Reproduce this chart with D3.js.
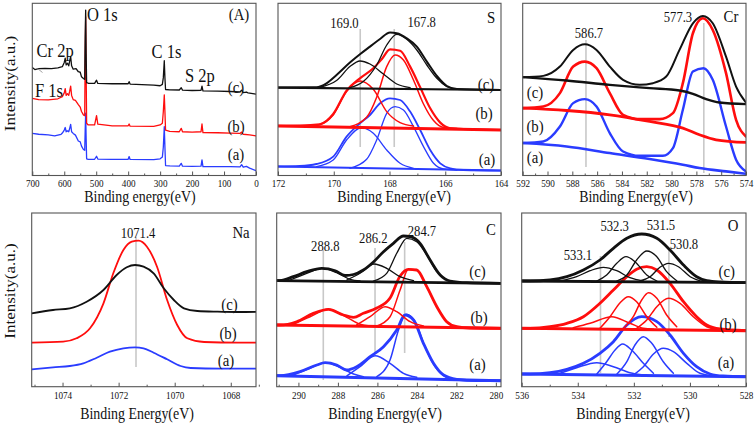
<!DOCTYPE html>
<html><head><meta charset="utf-8">
<script src="https://cdn.jsdelivr.net/npm/d3@7"></script>
<style>
body{margin:0;background:#fff}
svg{display:block}
text{font-family:"Liberation Serif","Times New Roman",serif;fill:#111}
</style>
</head><body>
<svg id="chart" width="756" height="427"></svg>
<script>
// ---------------- DATA (binding energy eV, intensity a.u.) ----------------
// Survey (A)
const surveyTicks=[700,600,500,400,300,200,100,0], surveyMinor=[650,550,450,350,250,150,50];
const surveyC=[[700,62],[692,60.8],[680,61.3],[660,61.5],[640,61.4],[620,61.8],[606,62.5],[600,65],[597,67.5],[594,63.5],[590,64.5],[586,63],[583,66],[580,68.5],[577,63],[572,61],[563,61.3],[556,59.5],[550,59.2],[546,56.5],[540,55.5],[536,55],[534.5,80],[533,96],[531.5,70],[530,53],[525,52.7],[505,52.6],[499,54.5],[495,52.6],[450,52.4],[400,52.4],[397,53.6],[394,52.2],[320,51.6],[300,51.2],[293,52],[290,56],[287,66],[285,56],[283,49],[270,48.8],[240,48.7],[234,50],[230,48.6],[200,48.4],[172,48.5],[169,51],[166,48.2],[120,48],[80,47.8],[50,47.5],[45,48.6],[40,47.2],[30,47.5],[25,47],[10,46.5],[0,46.2]];
const surveyB=[[700,43.8],[680,43],[650,42.8],[620,43.5],[606,44.8],[600,47],[597,49.5],[594,45.5],[590,46.5],[586,45.5],[583,48],[580,51],[577,45.5],[572,43],[565,42.5],[556,40],[550,38.5],[546,36],[540,34],[536,33.5],[534.5,70],[533,92],[531.5,60],[530,29],[525,28],[505,28],[499,33.5],[495,28.5],[450,27.5],[400,27.5],[397,28.6],[394,27.3],[320,27.2],[300,28],[293,29],[290,36],[287,45.8],[285,36],[283,25],[270,24.2],[240,24],[234,26],[230,24],[200,23.8],[172,24],[169,28.6],[166,23.5],[120,23.4],[80,23.2],[50,23],[45,23.8],[40,22.5],[20,22.2],[0,21.5]];
const surveyA=[[700,23],[680,22.5],[650,22.1],[630,21.5],[610,22.5],[606,23.2],[600,25],[597,26.5],[594,24],[590,24.5],[586,24],[583,26],[580,28.4],[577,24],[572,23],[565,22],[556,18.5],[550,18],[546,15.5],[540,13.5],[536,13],[534.5,25],[533,35],[531.5,20],[530,8],[525,7.7],[505,7.7],[499,9.5],[495,7.8],[450,7.7],[400,7.7],[397,9.3],[394,7.6],[320,7.5],[300,8],[293,9],[290,15],[287,27],[285,15],[283,4],[270,3.8],[240,3.6],[234,5.3],[230,3.6],[200,3.5],[172,3.6],[169,7.3],[166,3.4],[120,3.4],[80,3.3],[50,3.2],[45,4.5],[40,3],[30,3.5],[20,2.5],[0,1]];

// S 2p
const sTicks=[172,170,168,166,164], sMinor=[171,169,167,165];
const sPeaks=[169.0,167.8];
const sBaseC=[[172,84.7],[164,82.3]];
const sEnvC=[[172,84.7],[170.62,85.0],[170.26,89.0],[169.90,97.3],[169.42,109.7],[169.06,118.0],[168.70,125.7],[168.34,133.3],[167.98,139.7],[167.74,139.0],[167.38,134.0],[167.02,125.7],[166.66,110.7],[166.30,96.3],[165.94,86.3],[165.58,83.3],[164,82.3]];
const sP1C=[[170.5,85.0],[169.9,91.7],[169.42,105.7],[169.06,111.3],[168.7,108.3],[168.22,98.3],[167.74,88.3],[167.26,84.7]];
const sP2C=[[169.42,84.7],[168.94,90.7],[168.46,107.3],[168.1,127.3],[167.74,138],[167.38,133],[167.02,122.3],[166.66,107.3],[166.3,94],[165.94,85.7],[165.58,83]];
const sBaseB=[[172,46.3],[164,42.3]];
const sEnvB=[[172,46.5],[171.22,46.7],[170.5,48.0],[170.02,58.3],[169.54,81.7],[169.06,94.0],[168.58,104.0],[168.28,113],[167.98,123],[167.62,121.5],[167.26,105.7],[166.90,85.0],[166.54,64.0],[166.18,49.7],[165.82,44.0],[165.35,43.3],[164,42.3]];
const sP1B=[[170.62,46.7],[170.02,57.3],[169.54,80.7],[169.06,91.3],[168.58,83.0],[168.10,60.7],[167.62,49.7],[167.14,46.3]];
const sP2B=[[169.42,45.7],[168.82,55.0],[168.46,75.0],[168.10,105.7],[167.80,117.3],[167.50,112.3],[167.14,92.3],[166.78,68.3],[166.42,51.7],[166.06,44.7],[165.58,43.7]];
const sBaseA=[[172,5.7],[164,1.7]];
const sEnvA=[[172,5.8],[171.22,6.3],[170.62,8.3],[170.02,15.7],[169.54,35.7],[169.06,49.0],[168.70,57.3],[168.34,69.0],[167.98,74.0],[167.62,72.3],[167.26,60.7],[166.90,42.3],[166.54,22.3],[166.18,9.0],[165.82,4.0],[165.35,2.3],[164,1.7]];
const sP1A=[[170.62,5.7],[170.02,12.3],[169.54,32.3],[169.0,44.7],[168.58,39.0],[168.10,22.3],[167.62,9.0],[167.14,4.0]];
const sP2A=[[169.42,4.0],[168.82,13.0],[168.46,32.3],[168.10,59.0],[167.80,65.7],[167.50,62.3],[167.14,45.7],[166.78,25.7],[166.42,9.0],[166.06,3.3],[165.58,2.3]];

// Cr 2p
const crTicks=[592,590,588,586,584,582,580,578,576,574], crMinor=[591,589,587,585,583,581,579,577,575];
const crPeaks=[586.7,577.3];
const crEnvC=[[592,98.7],[590.34,100],[589,109.3],[587.93,126],[586.99,131.7],[586.05,126],[584.98,109.3],[583.91,96],[582.57,91],[581.5,92.7],[580.43,99.3],[579.36,126],[578.28,152.7],[577.48,160],[576.68,152.7],[575.61,119.3],[574.8,89.3],[574,73.3]];
const crBaseC=[[592,98.7],[588.46,95.3],[584.98,91],[581.77,87.7],[579.36,85.3],[578.28,82],[577.21,76.7],[576.14,73.3],[574,71.7]];
const crEnvB=[[592,67.7],[590.34,69.3],[589,82.7],[587.93,109.3],[586.99,114.3],[586.05,107.7],[584.98,82.7],[583.91,61],[582.57,56.7],[580.96,56.7],[579.89,62.7],[579.09,92.7],[578.28,142.7],[577.48,157.7],[576.68,146],[575.61,102.7],[574.8,56],[574,39.3]];
const crBaseB=[[592,67.7],[588.46,65.3],[584.98,61],[581.77,54.3],[579.09,47.7],[577.75,41],[576.41,36],[574,33.3]];
const crEnvA=[[592,32.7],[590.34,34.3],[589,49.3],[587.93,72.7],[586.99,76.7],[586.05,69.3],[584.98,42.7],[583.91,24.3],[582.57,20],[580.7,20],[579.89,27.7],[579.09,66],[578.28,104.3],[577.43,107.7],[576.68,96],[575.61,49.3],[574.8,16],[574,4.3]];
const crBaseA=[[592,32.7],[588.46,29.3],[584.98,22.7],[581.77,16.7],[579.09,11],[577.75,7.7],[575.61,4.3],[574,2]];

// Na 1s
const naTicks=[1074,1072,1070,1068], naMinor=[1075,1073,1071,1069,1067];
const naPeaks=[1071.4];
const naC=[[1075.1,72.7],[1074.34,76],[1073.74,77.7],[1073.14,84.3],[1072.54,96],[1072.07,111],[1071.71,118.7],[1071.41,121],[1071.11,119.3],[1070.75,112.7],[1070.39,97.7],[1070.03,86],[1069.67,77.7],[1069.19,75],[1068.47,74.3],[1067.75,74],[1066.94,74.3]];
const naB=[[1075.1,43.3],[1073.98,44.3],[1073.5,47.7],[1073.02,57.7],[1072.54,82.7],[1072.19,112.7],[1071.83,136],[1071.53,144.3],[1071.29,145.3],[1070.99,139.3],[1070.63,119.3],[1070.27,86],[1069.91,61],[1069.55,47.7],[1068.95,44],[1067.75,43.3],[1066.94,43.3]];
const naA=[[1075.1,16.7],[1074.34,18.7],[1073.74,20],[1073.26,22.7],[1072.78,28.3],[1072.31,34.3],[1071.83,37.7],[1071.41,38.7],[1071.11,37.7],[1070.75,33.3],[1070.27,26.7],[1069.79,20],[1069.43,18],[1068.35,17.3],[1066.94,17.3]];

// C 1s
const cTicks=[290,288,286,284,282,280], cMinor=[291,289,287,285,283,281];
const cPeaks=[288.8,286.2,284.7];
const cBaseC=[[291.1,105.3],[279.74,102.7]];
const cEnvC=[[291.1,105.3],[290.93,105.3],[290.26,109.3],[289.58,114.3],[288.82,117.7],[288.14,115.3],[287.64,110.5],[287.21,111.5],[286.71,116],[286.2,124],[285.69,134.3],[285.19,142.7],[284.68,150],[284.34,149.3],[283.84,142.7],[283.33,126],[282.82,111],[282.32,105],[281.47,103.3],[279.74,102.7]];
const cP1C=[[290.42,106],[289.58,112.7],[288.77,117.7],[288.06,113.3],[287.38,106.7],[286.88,105]];
const cP2C=[[287.55,106],[286.88,112.7],[286.17,122],[285.53,117.7],[284.85,109.3],[284.17,105.3]];
const cP3C=[[286.2,105],[285.53,112.7],[285.02,132.7],[284.51,147.7],[284.01,144.3],[283.5,131],[282.99,114.3],[282.49,106],[281.98,103.3]];
const cBaseB=[[291.1,61],[279.74,57.7]];
const cEnvB=[[291.1,61],[290.93,61],[290.09,64.3],[289.24,72.7],[288.48,76.7],[287.72,71],[287.21,68.7],[286.71,72.7],[286.03,78],[285.36,88],[284.85,110],[284.43,116.7],[284.01,116],[283.5,99.3],[282.99,79.3],[282.49,64.3],[281.98,59.3],[281.3,58],[279.74,57.7]];
const cP1B=[[290.26,61.7],[289.41,69.3],[288.48,76.7],[287.55,68.7],[286.88,61.7],[286.37,60]];
const cP2B=[[287.05,61],[286.37,69.3],[285.61,79.3],[285.02,74.3],[284.34,64.3],[283.67,60]];
const cP3B=[[286.03,60],[285.36,69.3],[284.85,96],[284.43,116.7],[284.01,116],[283.5,99.3],[282.99,79.3],[282.49,64.3],[281.98,59.3]];
const cBaseA=[[291.1,10.3],[279.74,5.3]];
const cEnvA=[[291.1,10.3],[290.93,10.3],[289.92,14.3],[289.07,21],[288.65,23.3],[288.06,21],[287.55,16],[287.05,19.3],[286.37,29.3],[285.69,39.3],[285.02,56],[284.6,71],[284.17,66],[283.67,42.7],[283.16,22.7],[282.65,11],[281.98,6.7],[280.97,5.3],[279.74,5.3]];
const cP1A=[[290.26,11],[289.41,17.7],[288.65,23.3],[287.89,18.7],[287.21,12],[286.71,9.3]];
const cP2A=[[287.55,10],[286.88,19.3],[286.12,30.3],[285.36,22.7],[284.68,12.7],[284.01,8.7]];
const cP3A=[[286.03,9.3],[285.36,26],[284.93,56],[284.55,71.7],[284.09,64.3],[283.59,39.3],[283.08,19.3],[282.57,9.3],[281.98,6]];

// O 1s
const oTicks=[536,534,532,530,528], oMinor=[535,533,531,529];
const oPeaks=[533.1,532.3,531.5,530.8];
const oBaseC=[[536,104],[528,102.3]];
const oEnvC=[[536,104],[535.7,104],[534.99,105],[534.39,108.3],[533.8,115],[533.21,125],[532.73,136.7],[532.25,146.7],[531.72,151],[531.18,146.7],[530.71,135],[530.23,120],[529.76,108.3],[529.4,104.3],[528.92,103],[528,102.3]];
const oP1C=[[534.63,104],[534.04,108.3],[533.56,114.3],[533.09,117.7],[532.61,114.3],[532.14,107.3],[531.66,104]];
const oP2C=[[533.32,104],[532.97,110],[532.61,121.7],[532.28,128.3],[531.96,123.3],[531.54,110],[531.18,104]];
const oP3C=[[532.61,104],[532.25,110],[531.9,125],[531.54,134],[531.18,128.3],[530.83,113.3],[530.47,104.3]];
const oP4C=[[531.78,104],[531.42,108.3],[531.07,117.7],[530.77,121.7],[530.41,118.3],[529.99,108.3],[529.52,103.3]];
const oBaseB=[[536,56.7],[528,54.3]];
const oEnvB=[[536,56.7],[535.7,56.7],[534.99,58.3],[534.39,61.7],[533.8,68.3],[533.21,81.7],[532.73,95],[532.25,108.3],[531.9,115.7],[531.54,118.3],[531.18,115],[530.71,101.7],[530.23,83.3],[529.76,68.3],[529.4,60],[528.92,56],[528,54.3]];
const oP1B=[[534.16,57.3],[533.56,61.7],[532.79,68.3],[532.14,61.7],[531.66,56.7],[531.3,55.7]];
const oP2B=[[533.21,56.7],[532.85,68.3],[532.49,82.3],[532.2,88.3],[531.9,83.3],[531.54,68.3],[531.18,57.7]];
const oP3B=[[532.37,56.7],[532.02,68.3],[531.72,85],[531.48,92.3],[531.18,86.7],[530.83,70],[530.47,58.3]];
const oP4B=[[531.9,56.7],[531.54,65],[531.18,78.3],[530.77,86.7],[530.35,81.7],[529.88,68.3],[529.4,58.3],[529.04,55.7]];
const oBaseA=[[536,11],[528,8.3]];
const oEnvA=[[536,11],[535.7,11],[534.99,12.3],[534.39,15.7],[533.8,21.7],[533.21,31.7],[532.73,43.3],[532.25,60],[531.72,68.3],[531.18,63.3],[530.71,50],[530.23,31.7],[529.76,18.3],[529.28,11],[528.81,9],[528,8.3]];
const oP1A=[[534.63,11.7],[534.04,17.3],[533.32,22.3],[532.73,18.3],[532.14,12.3],[531.66,10]];
const oP2A=[[533.32,11],[532.97,23.3],[532.67,35],[532.4,41],[532.08,35],[531.66,21.7],[531.3,11.7]];
const oP3A=[[532.61,10.7],[532.25,23.3],[531.96,40],[531.66,48.3],[531.36,41.7],[530.95,23.3],[530.59,11.7]];
const oP4A=[[532.02,10],[531.66,18.3],[531.3,31],[530.95,36.7],[530.59,33.3],[530.11,21.7],[529.64,11.7],[529.16,9]];

// ---------------- DRAWING ----------------
const BLK="#111111", RED="#ff0d0d", BLU="#2a3cff", GUIDE="#c8c8c8";
const SX=0.87;
const svg=d3.select("#chart");
let clipN=0;

function txt(x,y,s,size,anchor,rot){
  const g=svg.append("g").attr("transform",rot?`translate(${x},${y}) rotate(-90) scale(1,${SX})`:`translate(${x},${y}) scale(${SX},1)`);
  g.append("text").attr("text-anchor",anchor||"middle").attr("font-size",size).text(s);
}

function panel(cfg){
  const x=d3.scaleLinear().domain(cfg.xd).range([cfg.l,cfg.r]);
  const y=d3.scaleLinear().domain(cfg.yd).range([cfg.b,cfg.t]);
  const id="clip"+(clipN++);
  svg.append("clipPath").attr("id",id).append("rect").attr("x",cfg.l).attr("y",cfg.t).attr("width",cfg.r-cfg.l).attr("height",cfg.b-cfg.t);
  const g=svg.append("g").attr("clip-path",`url(#${id})`);
  (cfg.guides||[]).forEach(gd=>{
    g.append("line").attr("x1",x(gd.e)).attr("x2",x(gd.e)).attr("y1",gd.y0).attr("y2",gd.y1)
     .attr("stroke",GUIDE).attr("stroke-width",1.6);
  });
  const line=d3.line().x(d=>x(d[0])).y(d=>y(d[1])).curve(cfg.curve||d3.curveMonotoneX);
  cfg.series.forEach(s=>{
    g.append("path").attr("d",line(s.d)).attr("fill","none").attr("stroke",s.c)
     .attr("stroke-width",s.w).attr("stroke-linejoin","round").attr("stroke-linecap","round");
  });
  // frame
  svg.append("rect").attr("x",cfg.l).attr("y",cfg.t).attr("width",cfg.r-cfg.l).attr("height",cfg.b-cfg.t)
     .attr("fill","none").attr("stroke","#555").attr("stroke-width",1.1);
  // axes
  const ax=svg.append("g").attr("transform",`translate(0,${cfg.b})`)
    .call(d3.axisBottom(x).tickValues(cfg.ticks).tickSizeInner(-4).tickSizeOuter(0).tickPadding(4.5).tickFormat(d3.format("d")));
  ax.select(".domain").remove();
  ax.selectAll(".tick line").attr("stroke","#555");
  ax.selectAll(".tick text").attr("font-size",10.5).attr("font-family","Liberation Serif, serif").attr("fill","#111").attr("transform",`scale(${SX},1)`);
  const mx=svg.append("g").attr("transform",`translate(0,${cfg.b})`)
    .call(d3.axisBottom(x).tickValues(cfg.minor).tickSizeInner(-2).tickSizeOuter(0).tickFormat(""));
  mx.select(".domain").remove();
  mx.selectAll(".tick line").attr("stroke","#555");
  return {x,y};
}

// --- Panel A: survey
panel({l:32.3,r:256,t:3.3,b:175.5,xd:[700,0],yd:[-1.9,100],ticks:surveyTicks,minor:surveyMinor,curve:d3.curveLinear,
  series:[{d:surveyA,c:BLU,w:1.3},{d:surveyB,c:RED,w:1.3},{d:surveyC,c:BLK,w:1.3}]});
svg.append("line").attr("x1",37.5).attr("y1",68.5).attr("x2",42.5).attr("y2",72.5).attr("stroke","#888").attr("stroke-width",0.8);
txt(239,19.5,"(A)",17);
txt(87,20.5,"O 1s",19,"start");
txt(36.5,57,"Cr 2p",19,"start");
txt(151.5,58,"C 1s",19,"start");
txt(185,82,"S 2p",19,"start");
txt(35,96.5,"F 1s",19,"start");
txt(236,93,"(c)",17); txt(236,131.5,"(b)",17); txt(236,159.5,"(a)",17);
txt(140,202,"Binding energy(eV)",16);
txt(15,83.5,"Intensity(a.u.)",17,"middle",true);

// --- Panel S
panel({l:278,r:501,t:3.3,b:175.5,xd:[172,164],yd:[-3.2,169],ticks:sTicks,minor:sMinor,
  guides:[{e:169.05,y0:29,y1:147},{e:167.83,y0:29,y1:147}],
  series:[{d:sBaseA,c:BLU,w:2},{d:sP1A,c:BLU,w:1.3},{d:sP2A,c:BLU,w:1.3},{d:sEnvA,c:BLU,w:1.8},
          {d:sBaseB,c:RED,w:3},{d:sP1B,c:RED,w:1.5},{d:sP2B,c:RED,w:1.5},{d:sEnvB,c:RED,w:2.2},
          {d:sBaseC,c:BLK,w:2.2},{d:sP1C,c:BLK,w:1.3},{d:sP2C,c:BLK,w:1.3},{d:sEnvC,c:BLK,w:2}]});
txt(344.5,28,sPeaks[0].toFixed(1),14.5);
txt(421.7,26.5,sPeaks[1].toFixed(1),14.5);
txt(491,22.5,"S",17);
txt(486,90,"(c)",17); txt(484,119,"(b)",17); txt(487,165,"(a)",17);
txt(394,202,"Binding Energy(eV)",16);

// --- Panel Cr
panel({l:522.7,r:746,t:3.3,b:175.5,xd:[592,574],yd:[0.2,172.7],ticks:crTicks,minor:crMinor,
  guides:[{e:586.9,y0:40,y1:167},{e:577.4,y0:23,y1:173}],
  series:[{d:crBaseA,c:BLU,w:2.6},{d:crEnvA,c:BLU,w:2.4},
          {d:crBaseB,c:RED,w:2.8},{d:crEnvB,c:RED,w:2.6},
          {d:crBaseC,c:BLK,w:2.4},{d:crEnvC,c:BLK,w:2}]});
txt(589,38,crPeaks[0].toFixed(1),14.5);
txt(678,21.5,crPeaks[1].toFixed(1),14.5);
txt(731,21.5,"Cr",17);
txt(535,98,"(c)",17); txt(535,132,"(b)",17); txt(535,163,"(a)",17);
txt(636,202,"Binding Energy(eV)",16);

// --- Panel Na
panel({l:31.7,r:256,t:213,b:386.7,xd:[1075.1,1067.1],yd:[-0.7,173],ticks:naTicks,minor:naMinor,
  guides:[{e:1071.38,y0:237,y1:367}],
  series:[{d:naA,c:BLU,w:1.8},{d:naB,c:RED,w:1.8},{d:naC,c:BLK,w:1.8}]});
txt(138,238,naPeaks[0].toFixed(1),14.5);
txt(241,238,"Na",17);
txt(229.5,310,"(c)",17); txt(228,338.5,"(b)",17); txt(226,366,"(a)",17);
txt(137,419,"Binding Energy(eV)",16);
txt(15,291,"Intensity(a.u.)",17,"middle",true);

// --- Panel C
panel({l:276.7,r:501,t:213,b:386.7,xd:[291.1,279.74],yd:[-0.7,173],ticks:cTicks,minor:cMinor,
  guides:[{e:288.74,y0:250,y1:380},{e:286.12,y0:248,y1:353},{e:284.62,y0:242,y1:353}],
  series:[{d:cBaseA,c:BLU,w:3},{d:cP1A,c:BLU,w:1.5},{d:cP2A,c:BLU,w:1.5},{d:cP3A,c:BLU,w:1.5},{d:cEnvA,c:BLU,w:2.8},
          {d:cBaseB,c:RED,w:3},{d:cP1B,c:RED,w:1.5},{d:cP2B,c:RED,w:1.5},{d:cP3B,c:RED,w:1.5},{d:cEnvB,c:RED,w:2.8},
          {d:cBaseC,c:BLK,w:2.8},{d:cP1C,c:BLK,w:1.3},{d:cP2C,c:BLK,w:1.3},{d:cP3C,c:BLK,w:1.3},{d:cEnvC,c:BLK,w:2.8}]});
txt(325.3,251,cPeaks[0].toFixed(1),14.5);
txt(373.3,243,cPeaks[1].toFixed(1),14.5);
txt(422,235.5,cPeaks[2].toFixed(1),14.5);
txt(491,235,"C",17);
txt(477.5,277,"(c)",17); txt(479,323,"(b)",17); txt(477.5,370,"(a)",17);
txt(385,419,"Binding Energy(eV)",16);

// --- Panel O
panel({l:521.7,r:746,t:213,b:386.7,xd:[536,528],yd:[-1.7,172],ticks:oTicks,minor:oMinor,
  guides:[{e:533.19,y0:256,y1:373},{e:530.75,y0:250,y1:337}],
  series:[{d:oBaseA,c:BLU,w:3},{d:oP1A,c:BLU,w:1.5},{d:oP2A,c:BLU,w:1.5},{d:oP3A,c:BLU,w:1.5},{d:oP4A,c:BLU,w:1.5},{d:oEnvA,c:BLU,w:2.8},
          {d:oBaseB,c:RED,w:3},{d:oP1B,c:RED,w:1.5},{d:oP2B,c:RED,w:1.5},{d:oP3B,c:RED,w:1.5},{d:oP4B,c:RED,w:1.5},{d:oEnvB,c:RED,w:2.8},
          {d:oBaseC,c:BLK,w:2.8},{d:oP1C,c:BLK,w:1.3},{d:oP2C,c:BLK,w:1.3},{d:oP3C,c:BLK,w:1.3},{d:oP4C,c:BLK,w:1.3},{d:oEnvC,c:BLK,w:2.8}]});
txt(578,259.5,oPeaks[0].toFixed(1),14.5);
txt(614.7,231,oPeaks[1].toFixed(1),14.5);
txt(661,229.5,oPeaks[2].toFixed(1),14.5);
txt(684,248.5,oPeaks[3].toFixed(1),14.5);
txt(733,230.5,"O",17);
txt(726.7,277,"(c)",17); txt(728,330,"(b)",17); txt(726,368,"(a)",17);
txt(633,419,"Binding Energy(eV)",16);
</script>
</body></html>
